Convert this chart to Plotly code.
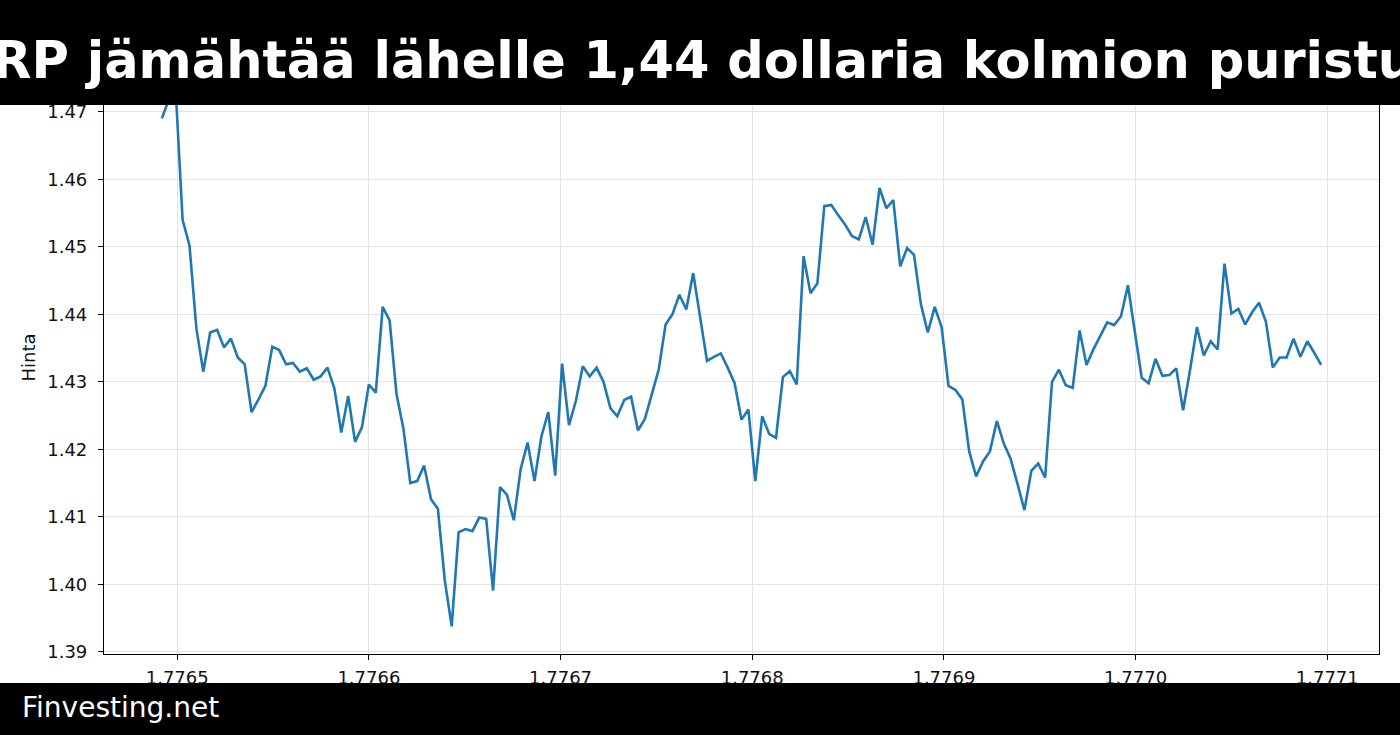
import plotly.graph_objects as go

# ---- data ----
T0 = 1776492000          # first hourly timestamp (s)
STEP = 3600              # one hour
PRICES = [
    1.4690, 1.4718, 1.4732, 1.4540, 1.4502, 1.4379, 1.4315, 1.4373, 1.4377, 1.4351,
    1.4364, 1.4336, 1.4326, 1.4255, 1.4274, 1.4294, 1.4352, 1.4347, 1.4326, 1.4328,
    1.4315, 1.4320, 1.4303, 1.4308, 1.4321, 1.4290, 1.4225, 1.4279, 1.4211, 1.4233,
    1.4296, 1.4284, 1.4411, 1.4391, 1.4282, 1.4231, 1.4150, 1.4153, 1.4176, 1.4126,
    1.4112, 1.4006, 1.3938, 1.4077, 1.4082, 1.4079, 1.4099, 1.4097, 1.3991, 1.4144,
    1.4133, 1.4095, 1.4171, 1.4210, 1.4153, 1.4219, 1.4255, 1.4161, 1.4327, 1.4236,
    1.4272, 1.4323, 1.4308, 1.4321, 1.4300, 1.4261, 1.4249, 1.4273, 1.4278, 1.4228,
    1.4245, 1.4281, 1.4318, 1.4385, 1.4400, 1.4429, 1.4407, 1.4461, 1.4398, 1.4331,
    1.4337, 1.4342, 1.4321, 1.4298, 1.4244, 1.4259, 1.4153, 1.4249, 1.4223, 1.4217,
    1.4307, 1.4316, 1.4296, 1.4486, 1.4431, 1.4446, 1.4560, 1.4562, 1.4547, 1.4533,
    1.4516, 1.4511, 1.4544, 1.4503, 1.4587, 1.4557, 1.4569, 1.4471, 1.4498, 1.4488,
    1.4415, 1.4373, 1.4411, 1.4381, 1.4294, 1.4288, 1.4274, 1.4197, 1.4160, 1.4182,
    1.4197, 1.4242, 1.4209, 1.4186, 1.4149, 1.4110, 1.4168, 1.4179, 1.4158, 1.4300,
    1.4318, 1.4295, 1.4291, 1.4376, 1.4325, 1.4348, 1.4368, 1.4388, 1.4384, 1.4397,
    1.4443, 1.4374, 1.4306, 1.4298, 1.4334, 1.4309, 1.4310, 1.4320, 1.4258, 1.4317,
    1.4381, 1.4339, 1.4360, 1.4348, 1.4475, 1.4401, 1.4408, 1.4385, 1.4403, 1.4417,
    1.4389, 1.4321, 1.4336, 1.4336, 1.4364, 1.4337, 1.4360, 1.4343, 1.4325,
]
X_TICKS = [1.7765, 1.7766, 1.7767, 1.7768, 1.7769, 1.7770, 1.7771]
Y_TICKS = [1.39, 1.40, 1.41, 1.42, 1.43, 1.44, 1.45, 1.46, 1.47]

TITLE = "XRP jämähtää lähelle 1,44 dollaria kolmion puristus"
FOOTER = "Finvesting.net"
Y_LABEL = "Hinta"

# x in units of 1e9 seconds (as the axis shows)
times = [T0 + STEP * i for i in range(len(PRICES))]
xs = [t / 1e9 for t in times]

# ---- layout geometry (pixels) ----
W, H = 1400, 735
ML, MR, MT, MB = 104, 21, 61, 81
PW = W - ML - MR
PH = H - MT - MB


def px_x(p):
    return (p - ML) / PW


def px_y(p):
    return (H - MB - p) / PH


FONT = "DejaVu Sans"
BLUE = "#1f77b4"
TICK_FONT = dict(family=FONT, size=18, color="#111")

fig = go.Figure()
fig.add_trace(go.Scatter(x=xs, y=PRICES, mode="lines",
                         line=dict(color=BLUE, width=2.6),
                         hoverinfo="skip", showlegend=False))

fig.update_layout(
    width=W, height=H,
    margin=dict(l=ML, r=MR, t=MT, b=MB, autoexpand=False),
    paper_bgcolor="white", plot_bgcolor="white",
    font=dict(family=FONT, size=18, color="#111"),
    showlegend=False,
    xaxis=dict(range=[1.7764618, 1.7771270], tickvals=X_TICKS, tickformat=".4f",
               showgrid=True, gridcolor="#e3e3e3", gridwidth=1.1,
               showline=True, linecolor="black", linewidth=1.2, mirror=True,
               ticks="outside", ticklen=5, tickcolor="black", tickwidth=1.1,
               ticklabelstandoff=2, zeroline=False, tickfont=TICK_FONT),
    yaxis=dict(range=[1.3897, 1.4775], tickvals=Y_TICKS, tickformat=".2f",
               showgrid=True, gridcolor="#e3e3e3", gridwidth=1.1,
               showline=True, linecolor="black", linewidth=1.2, mirror=True,
               ticks="outside", ticklen=5, tickcolor="black", tickwidth=1.1,
               ticklabelstandoff=7, zeroline=False,
               title=dict(text=Y_LABEL, standoff=6,
                          font=dict(family=FONT, size=18, color="#111")),
               tickfont=TICK_FONT),
)

# black banners (header and footer)
fig.add_shape(type="rect", xref="paper", yref="paper", layer="above",
              x0=px_x(0), x1=px_x(W), y0=px_y(105), y1=px_y(0),
              fillcolor="black", line=dict(width=0))
fig.add_shape(type="rect", xref="paper", yref="paper", layer="above",
              x0=px_x(0), x1=px_x(W), y0=px_y(H), y1=px_y(683),
              fillcolor="black", line=dict(width=0))

fig.add_annotation(text="<b>" + TITLE + "</b>", xref="paper", yref="paper",
                   x=px_x(699), y=px_y(60), xanchor="center", yanchor="middle",
                   showarrow=False, font=dict(family=FONT, size=51, color="white"))
fig.add_annotation(text=FOOTER, xref="paper", yref="paper",
                   x=px_x(20), y=px_y(707), xanchor="left", yanchor="middle",
                   showarrow=False, font=dict(family=FONT, size=28, color="white"))

fig.write_html("out.html",
               config={"displayModeBar": False},
               post_script="document.body.style.margin='0';"
                           "document.body.style.overflow='hidden';")
